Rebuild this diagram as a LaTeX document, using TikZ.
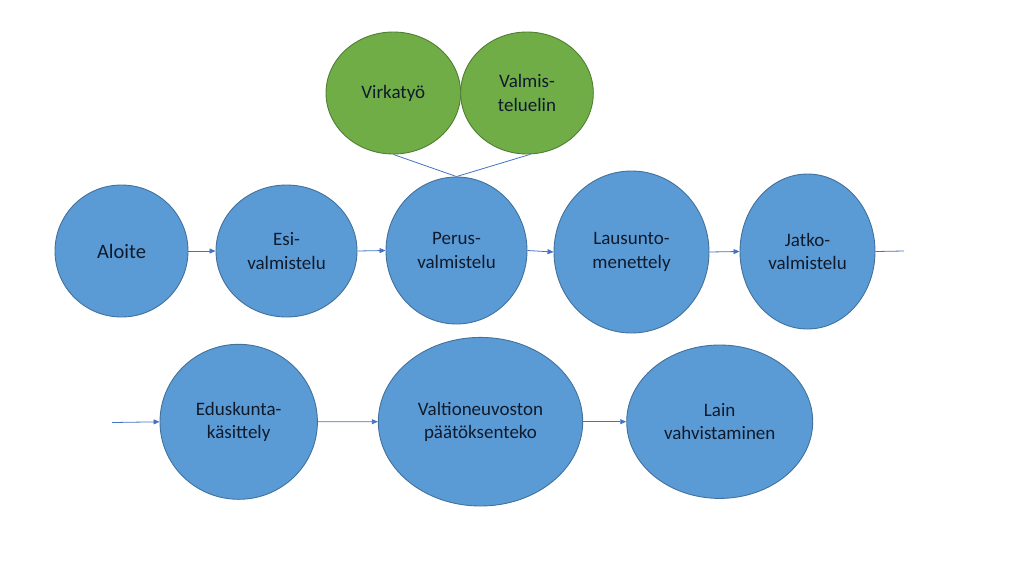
\documentclass[tikz,border=0pt]{standalone}
\usepackage{fontspec}
\setmainfont{Carlito}
\usetikzlibrary{shapes.geometric,arrows.meta}
\definecolor{bfill}{HTML}{5B9BD5}
\definecolor{bdraw}{HTML}{41719C}
\definecolor{gfill}{HTML}{70AD47}
\definecolor{gdraw}{HTML}{507E32}
\definecolor{lcol}{HTML}{4472C4}
\definecolor{tcol}{HTML}{0F1B2C}
\tikzset{
  bub/.style={ellipse, inner sep=0pt, align=center, text=tcol,
    font=\fontsize{19}{23.3}\selectfont, line width=0.9pt},
  bluebub/.style={bub, fill=bfill, draw=bdraw},
  greenbub/.style={bub, fill=gfill, draw=gdraw},
  conn/.style={draw=lcol, line width=0.8pt},
  arr/.style={conn, -{Triangle[length=6pt,width=5pt]}}
}
\begin{document}
\begin{tikzpicture}[x=1pt,y=-1pt]
\useasboundingbox (0,0) rectangle (1024,576);
% top row
\node[bluebub, minimum width=133pt, minimum height=132pt, font=\fontsize{20.5}{24}\selectfont] (alo) at (121.5,251) {Aloite};
\node[bluebub, minimum width=141pt, minimum height=132pt] (esi) at (286.5,251) {Esi-\\valmistelu};
\node[bluebub, minimum width=141pt, minimum height=147pt] (per) at (456.5,250.5) {Perus-\\valmistelu};
\node[bluebub, minimum width=155pt, minimum height=162pt] (lau) at (631.5,252) {Lausunto-\\menettely};
\node[bluebub, minimum width=135pt, minimum height=155pt] (jat) at (807.5,251.5) {Jatko-\\valmistelu};
% green
\node[greenbub, minimum width=134.6pt, minimum height=122pt] (vir) at (393.3,93) {Virkatyö};
\node[greenbub, minimum width=132.6pt, minimum height=122pt] (val) at (527,93) {Valmis-\\teluelin};
% bottom row
\node[bluebub, minimum width=157.4pt, minimum height=155pt] (edu) at (238.7,421.8) {Eduskunta-\\käsittely};
\node[bluebub, minimum width=204.4pt, minimum height=168.6pt] (vnp) at (480.5,421.7) {Valtioneuvoston\\päätöksenteko};
\node[bluebub, minimum width=186pt, minimum height=153.4pt] (lai) at (719.7,421.7) {Lain\\vahvistaminen};
% free ends
\coordinate (jend) at (904,251);
\coordinate (estart) at (112,422.5);
% connectors
\draw[arr] (alo.east) -- (esi.west);
\draw[arr] (esi.east) -- (per.west);
\draw[arr] (per.east) -- (lau.west);
\draw[arr] (lau.east) -- (jat.west);
\draw[conn] (jat.east) -- (jend);
\draw[arr] (estart) -- (edu.west);
\draw[arr] (edu.east) -- (vnp.west);
\draw[arr] (vnp.east) -- (lai.west);
\draw[conn] (vir.south) -- (per.north);
\draw[conn] (val.-87) -- (per.north);
\end{tikzpicture}
\end{document}
